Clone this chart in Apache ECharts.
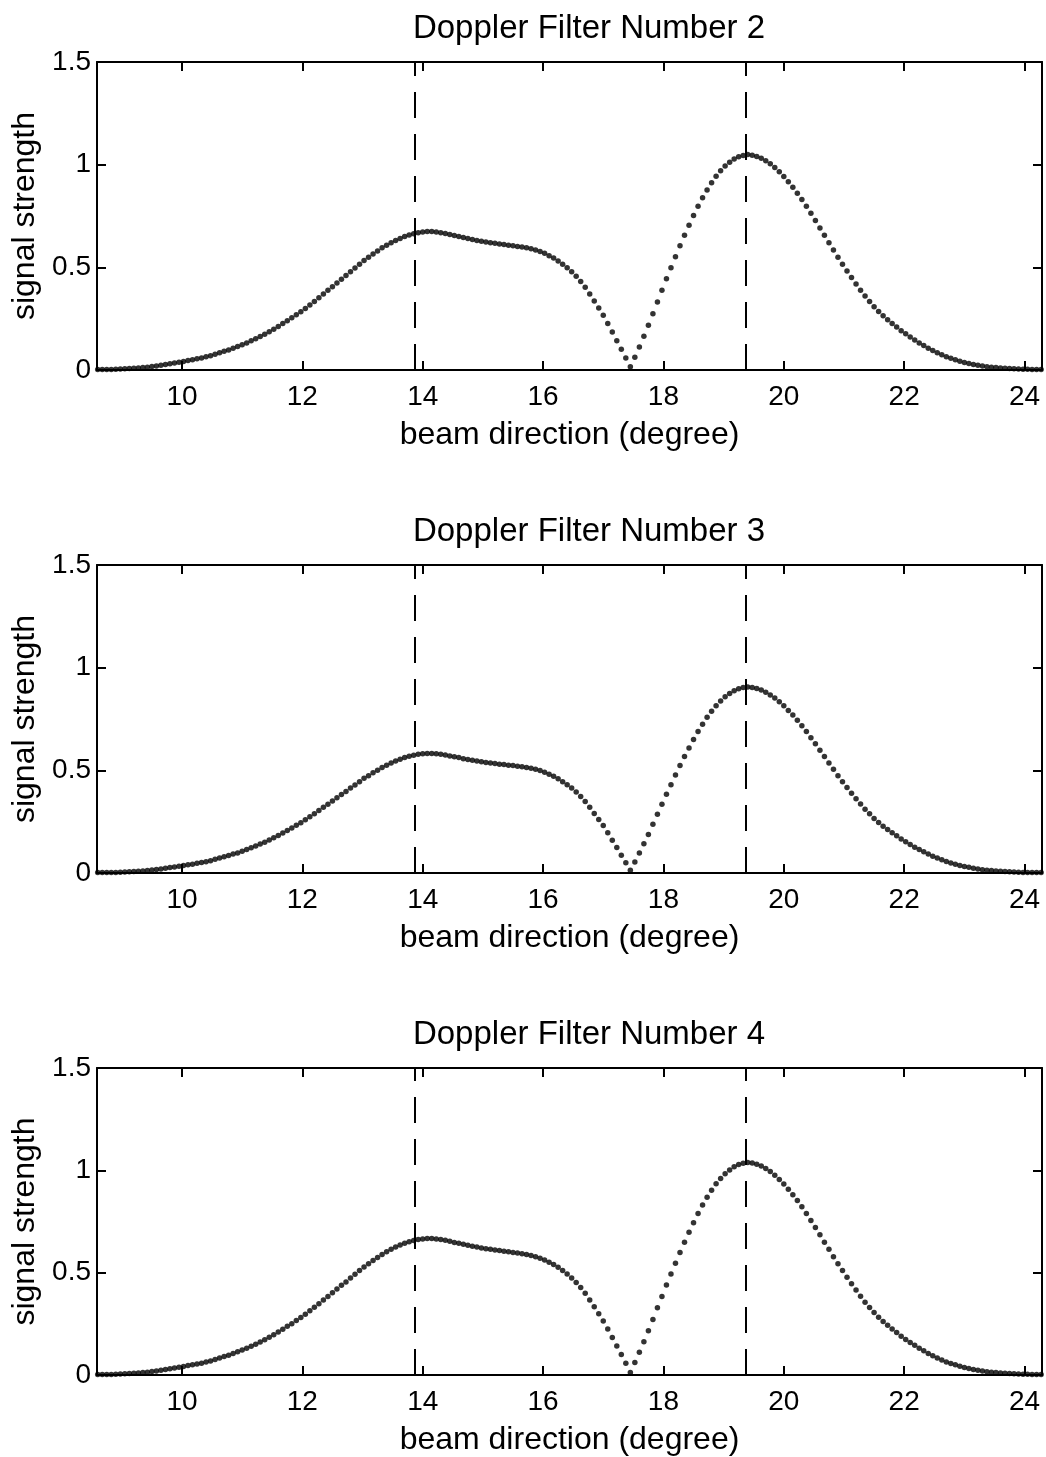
<!DOCTYPE html>
<html>
<head>
<meta charset="utf-8">
<script src="https://cdn.jsdelivr.net/npm/echarts@6/dist/echarts.min.js"></script>
<style>
html,body{margin:0;padding:0;background:#fff;}
#chart{width:1046px;height:1457px;}
</style>
</head>
<body>
<div id="chart"></div>
<script>
// ---- data ----
const titles = ["Doppler Filter Number 2", "Doppler Filter Number 3", "Doppler Filter Number 4"];
const xTickValues = [10, 12, 14, 16, 18, 20, 22, 24];
const yTickValues = [0, 0.5, 1, 1.5];
const dashedLineX = [13.86, 19.36];
const xRange = [8.588, 24.29];
// beam direction sample grid (degrees), 8.6 .. 24.275 in 0.075 steps
const beamDeg = Array.from({length: 210}, (_, i) => +(8.6 + 0.075 * i).toFixed(3));

const filter2 = [
 0.002,0.002,0.003,0.003,0.004,0.005,0.006,0.007,0.008,0.010,
 0.012,0.014,0.017,0.020,0.023,0.027,0.031,0.034,0.038,0.042,
 0.046,0.050,0.055,0.059,0.064,0.070,0.077,0.084,0.091,0.098,
 0.106,0.114,0.123,0.132,0.142,0.152,0.163,0.174,0.186,0.199,
 0.212,0.226,0.240,0.254,0.269,0.284,0.300,0.317,0.334,0.352,
 0.370,0.388,0.406,0.424,0.442,0.460,0.479,0.497,0.515,0.533,
 0.549,0.565,0.580,0.595,0.608,0.620,0.631,0.641,0.650,0.658,
 0.664,0.669,0.672,0.674,0.674,0.672,0.669,0.665,0.660,0.655,
 0.650,0.645,0.640,0.635,0.631,0.627,0.623,0.620,0.617,0.614,
 0.611,0.608,0.605,0.602,0.599,0.595,0.590,0.584,0.577,0.568,
 0.557,0.545,0.531,0.515,0.498,0.479,0.457,0.431,0.403,0.370,
 0.336,0.302,0.267,0.227,0.185,0.143,0.101,0.058,0.016,0.062,
 0.112,0.164,0.218,0.274,0.331,0.388,0.444,0.498,0.552,0.605,
 0.656,0.705,0.752,0.797,0.839,0.877,0.912,0.943,0.970,0.993,
 1.012,1.027,1.038,1.045,1.049,1.046,1.040,1.031,1.019,1.004,
 0.986,0.965,0.942,0.917,0.890,0.861,0.830,0.797,0.763,0.728,
 0.692,0.656,0.620,0.584,0.549,0.515,0.482,0.450,0.419,0.389,
 0.360,0.333,0.308,0.285,0.264,0.245,0.227,0.210,0.191,0.176,
 0.161,0.146,0.132,0.119,0.106,0.095,0.084,0.074,0.065,0.057,
 0.050,0.043,0.037,0.032,0.027,0.023,0.019,0.016,0.014,0.012,
 0.010,0.008,0.007,0.006,0.005,0.004,0.004,0.003,0.003,0.002
];
const filter3 = [
 0.002,0.002,0.003,0.003,0.003,0.004,0.005,0.006,0.007,0.009,
 0.010,0.012,0.015,0.017,0.020,0.023,0.027,0.029,0.033,0.036,
 0.040,0.043,0.048,0.051,0.055,0.060,0.067,0.073,0.079,0.085,
 0.092,0.098,0.106,0.114,0.123,0.131,0.141,0.150,0.161,0.172,
 0.183,0.195,0.207,0.219,0.232,0.245,0.259,0.274,0.289,0.304,
 0.320,0.335,0.351,0.366,0.382,0.397,0.414,0.429,0.445,0.461,
 0.474,0.488,0.501,0.514,0.525,0.536,0.545,0.554,0.562,0.569,
 0.574,0.578,0.581,0.582,0.582,0.581,0.578,0.575,0.570,0.566,
 0.562,0.557,0.553,0.549,0.545,0.542,0.538,0.536,0.533,0.530,
 0.528,0.525,0.523,0.520,0.518,0.514,0.510,0.505,0.499,0.491,
 0.481,0.471,0.459,0.445,0.430,0.414,0.395,0.372,0.348,0.320,
 0.290,0.261,0.231,0.196,0.160,0.124,0.087,0.050,0.014,0.054,
 0.097,0.142,0.188,0.237,0.286,0.335,0.384,0.430,0.477,0.523,
 0.567,0.609,0.650,0.689,0.725,0.758,0.788,0.815,0.838,0.858,
 0.874,0.887,0.897,0.903,0.906,0.904,0.899,0.891,0.880,0.867,
 0.852,0.834,0.814,0.792,0.769,0.744,0.717,0.689,0.659,0.629,
 0.598,0.567,0.536,0.505,0.474,0.445,0.416,0.389,0.362,0.336,
 0.311,0.288,0.266,0.246,0.228,0.212,0.196,0.181,0.165,0.152,
 0.139,0.126,0.114,0.103,0.092,0.082,0.073,0.064,0.056,0.049,
 0.043,0.037,0.032,0.028,0.023,0.020,0.016,0.014,0.012,0.010,
 0.009,0.007,0.006,0.005,0.004,0.003,0.003,0.003,0.003,0.002
];
const filter4 = [
 0.002,0.002,0.003,0.003,0.004,0.005,0.006,0.007,0.008,0.010,
 0.012,0.014,0.017,0.020,0.023,0.027,0.031,0.034,0.038,0.042,
 0.046,0.050,0.054,0.058,0.063,0.069,0.076,0.083,0.090,0.097,
 0.105,0.113,0.122,0.131,0.141,0.150,0.161,0.172,0.184,0.197,
 0.210,0.224,0.238,0.251,0.266,0.281,0.297,0.314,0.331,0.348,
 0.366,0.384,0.402,0.420,0.438,0.455,0.474,0.492,0.510,0.528,
 0.544,0.559,0.574,0.589,0.602,0.614,0.625,0.635,0.644,0.651,
 0.657,0.662,0.665,0.667,0.667,0.665,0.662,0.658,0.653,0.648,
 0.644,0.639,0.634,0.629,0.625,0.621,0.617,0.614,0.611,0.608,
 0.605,0.602,0.599,0.596,0.593,0.589,0.584,0.578,0.571,0.562,
 0.551,0.540,0.526,0.510,0.493,0.474,0.452,0.427,0.399,0.366,
 0.333,0.299,0.264,0.225,0.183,0.142,0.100,0.057,0.012,0.061,
 0.111,0.162,0.216,0.271,0.328,0.384,0.440,0.493,0.546,0.599,
 0.649,0.698,0.744,0.789,0.831,0.868,0.903,0.934,0.960,0.983,
 1.002,1.017,1.028,1.035,1.038,1.036,1.030,1.021,1.009,0.994,
 0.976,0.955,0.933,0.908,0.881,0.852,0.822,0.789,0.755,0.721,
 0.685,0.649,0.614,0.578,0.544,0.510,0.477,0.446,0.415,0.385,
 0.356,0.330,0.305,0.282,0.261,0.243,0.225,0.208,0.189,0.174,
 0.159,0.145,0.131,0.118,0.105,0.094,0.083,0.073,0.064,0.056,
 0.050,0.043,0.037,0.032,0.027,0.023,0.019,0.016,0.014,0.012,
 0.010,0.008,0.007,0.006,0.005,0.004,0.004,0.003,0.003,0.002
];
const seriesValues = [filter2, filter3, filter4];

// ---- layout / style ----
const FONT = "'Liberation Sans', Arial, Helvetica, sans-serif";
const gridTops = [62, 565, 1068];
const gridH = 308;
const gridLeft = 97, gridRight = 4;
const axisColor = '#000';

const grids = [], xAxes = [], yAxes = [], series = [], titleArr = [];
gridTops.forEach((top, k) => {
  grids.push({left: gridLeft, right: gridRight, top: top, height: gridH, containLabel: false});
  const lineCommon = {show: true, onZero: false, lineStyle: {color: axisColor, width: 2}};
  const tickCommon = {show: true, inside: true, length: 9, lineStyle: {color: axisColor, width: 2}};
  xAxes.push({
    gridIndex: k, type: 'value', position: 'bottom', min: xRange[0], max: xRange[1],
    axisLine: lineCommon,
    axisTick: Object.assign({customValues: xTickValues}, tickCommon),
    axisLabel: {customValues: xTickValues, color: '#000', fontSize: 28, fontFamily: FONT, margin: 13},
    splitLine: {show: false},
    name: 'beam direction (degree)', nameLocation: 'middle', nameGap: 49,
    nameTextStyle: {color: '#000', fontSize: 32, fontFamily: FONT}
  });
  xAxes.push({
    gridIndex: k, type: 'value', position: 'top', min: xRange[0], max: xRange[1],
    axisLine: lineCommon,
    axisTick: Object.assign({customValues: xTickValues}, tickCommon),
    axisLabel: {show: false}, splitLine: {show: false}
  });
  yAxes.push({
    gridIndex: k, type: 'value', position: 'left', min: 0, max: 1.5, interval: 0.5,
    axisLine: lineCommon, axisTick: tickCommon,
    axisLabel: {color: '#000', fontSize: 28, fontFamily: FONT, margin: 6,
      formatter: v => String(v)},
    splitLine: {show: false},
    name: 'signal strength', nameLocation: 'middle', nameGap: 50, nameRotate: 90,
    nameTextStyle: {color: '#000', fontSize: 32, fontFamily: FONT}
  });
  yAxes.push({
    gridIndex: k, type: 'value', position: 'right', min: 0, max: 1.5, interval: 0.5,
    axisLine: lineCommon, axisTick: tickCommon,
    axisLabel: {show: false}, splitLine: {show: false}
  });
  titleArr.push({
    text: titles[k], left: 584, top: top - 55, textAlign: 'center',
    textStyle: {color: '#000', fontSize: 33, fontWeight: 'normal', fontFamily: FONT}
  });
  series.push({
    type: 'scatter', xAxisIndex: 2 * k, yAxisIndex: 2 * k,
    symbol: 'circle', symbolSize: 5.5,
    itemStyle: {color: '#000'},
    data: beamDeg.map((x, i) => [x, seriesValues[k][i]]),
    silent: true, animation: false,
    markLine: {
      silent: true, symbol: ['none', 'none'], animation: false,
      label: {show: false},
      lineStyle: {color: '#000', width: 2, type: [26, 16]},
      data: dashedLineX.map(v => ({xAxis: v}))
    }
  });
});

const chart = echarts.init(document.getElementById('chart'), null, {renderer: 'canvas'});
chart.setOption({
  backgroundColor: '#fff',
  animation: false,
  title: titleArr,
  grid: grids,
  xAxis: xAxes,
  yAxis: yAxes,
  series: series
});
</script>
</body>
</html>
